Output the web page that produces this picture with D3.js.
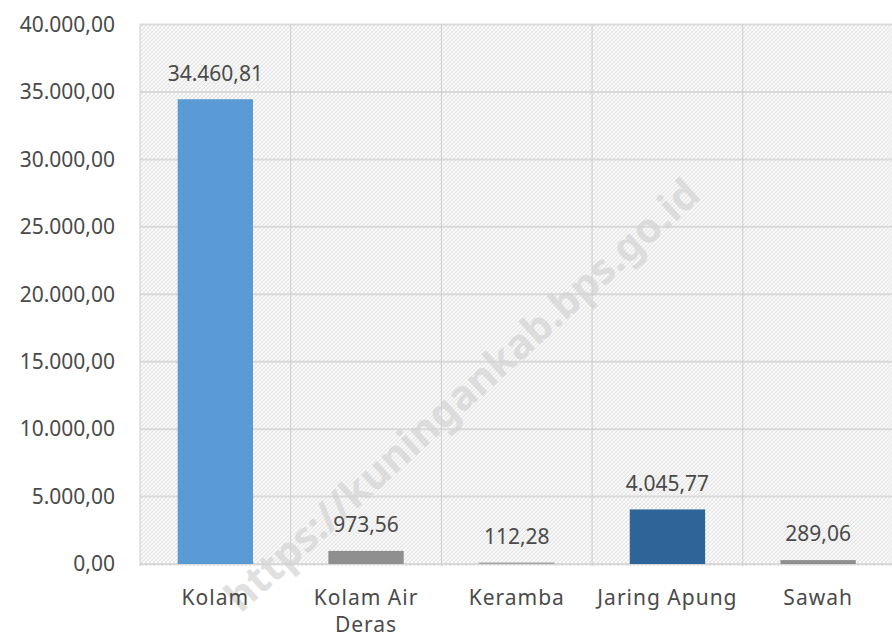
<!DOCTYPE html>
<html>
<head>
<meta charset="utf-8">
<script src="https://cdn.jsdelivr.net/npm/d3@7/dist/d3.min.js"></script>
<style>
  html, body { margin: 0; padding: 0; background: #ffffff; }
  svg { display: block; }
  text { font-family: "Noto Sans", "Open Sans", sans-serif; fill: #4a4a4a; }
</style>
</head>
<body>
<svg id="chart" width="892" height="638"></svg>
<script>
const categories = ["Kolam", "Kolam Air Deras", "Keramba", "Jaring Apung", "Sawah"];
const categoryLines = [["Kolam"], ["Kolam Air", "Deras"], ["Keramba"], ["Jaring Apung"], ["Sawah"]];
const values = [34460.81, 973.56, 112.28, 4045.77, 289.06];
const barColors = ["#5b9bd5", "#8f8f8f", "#a5a5a5", "#2e6599", "#8f8f8f"];
const yTicks = [0, 5000, 10000, 15000, 20000, 25000, 30000, 35000, 40000];
const watermark = "https://kuningankab.bps.go.id";

const idLocale = d3.formatLocale({decimal: ",", thousands: ".", grouping: [3], currency: ["", ""]});
const fmt = idLocale.format(",.2f");

const svg = d3.select("#chart");
const plotLeft = 140, plotRight = 893.5, plotTop = 24.5, plotBottom = 564;

const x = d3.scaleBand().domain(categories).range([plotLeft, plotRight]).padding(0);
const y = d3.scaleLinear().domain([0, 40000]).range([plotBottom, plotTop]);

// hatch pattern
const defs = svg.append("defs");
const pat = defs.append("pattern").attr("id", "hatch").attr("patternUnits", "userSpaceOnUse")
  .attr("width", 4).attr("height", 4);
pat.append("rect").attr("width", 4).attr("height", 4).attr("fill", "#fafafa");
pat.append("path").attr("d", "M0,4 L4,0 M-1,1 L1,-1 M3,5 L5,3").attr("stroke", "#e2e2e2").attr("stroke-width", 1);
pat.append("path").attr("d", "M0,0 L4,4 M-1,3 L1,5 M3,-1 L5,1").attr("stroke", "#ebebeb").attr("stroke-width", 0.8);

svg.append("rect").attr("x", plotLeft).attr("y", plotTop).attr("width", plotRight - plotLeft).attr("height", plotBottom - plotTop + 2)
  .attr("fill", "url(#hatch)");

// horizontal gridlines
svg.append("g").selectAll("line").data(yTicks).join("line")
  .attr("x1", plotLeft).attr("x2", plotRight)
  .attr("y1", d => y(d)).attr("y2", d => y(d))
  .attr("stroke", "#d9d9d9").attr("stroke-width", 2);

// vertical gridlines at band boundaries
const bounds = categories.map(c => x(c)).concat([x(categories[categories.length - 1]) + x.bandwidth()]);
svg.append("g").selectAll("line").data(bounds).join("line")
  .attr("x1", d => d).attr("x2", d => d)
  .attr("y1", plotTop).attr("y2", plotBottom + 2)
  .attr("stroke", "#cdcdcd").attr("stroke-width", 1);

// watermark
svg.append("text")
  .attr("transform", "translate(462,395) rotate(-42)")
  .attr("text-anchor", "middle").attr("dy", "0.35em")
  .style("font-size", "41px").style("font-weight", "bold")
  .style("fill", "#d4d4d4").style("opacity", 0.7)
  .text(watermark);

// bars
const bw = x.bandwidth() * 0.5;
svg.append("g").selectAll("rect").data(values).join("rect")
  .attr("x", (d, i) => x(categories[i]) + (x.bandwidth() - bw) / 2)
  .attr("width", bw)
  .attr("y", d => y(d))
  .attr("height", d => y(0) - y(d))
  .attr("fill", (d, i) => barColors[i]);

// value labels
svg.append("g").selectAll("text").data(values).join("text")
  .attr("x", (d, i) => x(categories[i]) + x.bandwidth() / 2)
  .attr("y", d => y(d) - 26)
  .attr("dy", "0.35em")
  .attr("text-anchor", "middle")
  .style("font-size", "21px")
  .text(d => fmt(d));

// y axis labels
svg.append("g").selectAll("text").data(yTicks).join("text")
  .attr("x", 115).attr("y", d => y(d)).attr("dy", "0.35em")
  .attr("text-anchor", "end")
  .style("font-size", "21px")
  .text(d => fmt(d));

// category labels
const cat = svg.append("g").selectAll("text").data(categories).join("text")
  .attr("text-anchor", "middle")
  .style("font-size", "21px").style("letter-spacing", "1px")
  .attr("transform", d => `translate(${x(d) + x.bandwidth() / 2},605)`);
cat.selectAll("tspan").data((d, i) => categoryLines[i]).join("tspan")
  .attr("x", 0).attr("y", (d, j) => j * 27)
  .text(d => d);
</script>
</body>
</html>
